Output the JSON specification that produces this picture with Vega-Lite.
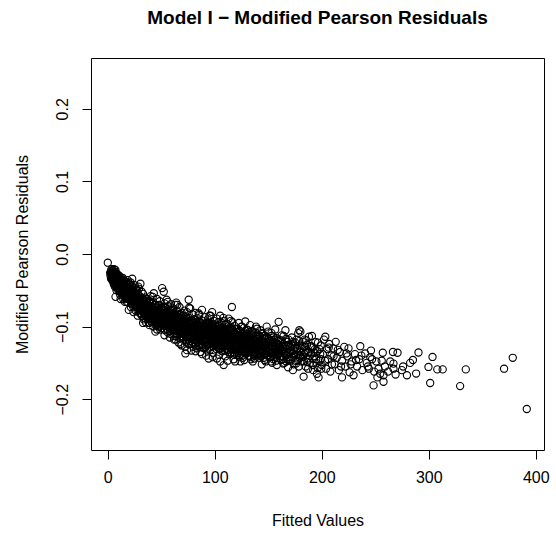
{
  "$schema": "https://vega.github.io/schema/vega-lite/v6.json",
  "autosize": "none",
  "width": 453,
  "height": 392,
  "padding": {"left": 91, "top": 58, "right": 12, "bottom": 86},
  "background": "white",
  "config": {
    "view": {"stroke": "black", "strokeWidth": 1},
    "font": "Liberation Sans"
  },
  "title": {
    "text": "Model I − Modified Pearson Residuals",
    "font": "Liberation Sans",
    "fontSize": 19,
    "fontWeight": "bold",
    "color": "black",
    "anchor": "middle",
    "frame": "group",
    "offset": 30
  },
  "data": {"values": [
    {"x":0,"y":-0.012},{"x":7.2,"y":-0.059},
    {"x":3,"y":-0.024},{"x":3.5,"y":-0.028},{"x":4,"y":-0.026},{"x":4,"y":-0.031},{"x":4.5,"y":-0.022},{"x":5,"y":-0.029},{"x":5,"y":-0.034},{"x":5.5,"y":-0.025},{"x":6,"y":-0.03},{"x":6,"y":-0.036},{"x":6.5,"y":-0.027},{"x":7,"y":-0.033},{"x":7,"y":-0.039},{"x":7.5,"y":-0.029},{"x":8,"y":-0.035},{"x":8,"y":-0.041},{"x":8.5,"y":-0.031},{"x":9,"y":-0.037},{"x":9,"y":-0.044},{"x":9.5,"y":-0.032},{"x":10,"y":-0.039},{"x":10,"y":-0.046},{"x":4,"y":-0.036},{"x":6,"y":-0.042},{"x":8,"y":-0.046},{"x":5,"y":-0.038},{"x":7,"y":-0.025},{"x":9,"y":-0.028},{"x":2.5,"y":-0.03},{"x":3,"y":-0.034},
    {"x":10.5,"y":-0.034},{"x":11,"y":-0.042},{"x":11,"y":-0.05},{"x":11.5,"y":-0.038},{"x":12,"y":-0.045},{"x":12,"y":-0.053},{"x":12.5,"y":-0.036},{"x":13,"y":-0.048},{"x":13,"y":-0.041},{"x":13.5,"y":-0.056},{"x":14,"y":-0.044},{"x":14,"y":-0.05},{"x":14.5,"y":-0.039},{"x":15,"y":-0.047},{"x":15,"y":-0.055},{"x":15.5,"y":-0.042},{"x":16,"y":-0.05},{"x":16,"y":-0.06},{"x":16.5,"y":-0.045},{"x":17,"y":-0.053},{"x":17,"y":-0.038},{"x":17.5,"y":-0.058},{"x":18,"y":-0.048},{"x":18,"y":-0.055},{"x":18.5,"y":-0.043},{"x":19,"y":-0.052},{"x":19,"y":-0.062},{"x":19.5,"y":-0.046},{"x":20,"y":-0.057},{"x":20,"y":-0.05},{"x":12,"y":-0.062},{"x":16,"y":-0.066},{"x":19.6,"y":-0.077},{"x":14,"y":-0.033},
    {"x":20.5,"y":-0.042},{"x":21,"y":-0.054},{"x":21,"y":-0.062},{"x":21.5,"y":-0.048},{"x":22,"y":-0.058},{"x":22,"y":-0.068},{"x":22.8,"y":-0.034},{"x":23,"y":-0.052},{"x":23,"y":-0.061},{"x":23.5,"y":-0.072},{"x":24,"y":-0.056},{"x":24,"y":-0.047},{"x":24.5,"y":-0.065},{"x":25,"y":-0.06},{"x":25,"y":-0.053},{"x":25.5,"y":-0.07},{"x":26,"y":-0.063},{"x":26,"y":-0.078},{"x":26.5,"y":-0.05},{"x":27,"y":-0.066},{"x":27,"y":-0.058},{"x":27.5,"y":-0.074},{"x":28,"y":-0.062},{"x":28,"y":-0.069},{"x":28.5,"y":-0.045},{"x":29,"y":-0.072},{"x":29,"y":-0.058},{"x":29.5,"y":-0.081},{"x":30,"y":-0.066},{"x":30.5,"y":-0.041},{"x":24,"y":-0.08},{"x":28,"y":-0.085},
    {"x":30.5,"y":-0.072},{"x":31,"y":-0.06},{"x":31,"y":-0.078},{"x":31.5,"y":-0.068},{"x":32,"y":-0.064},{"x":32,"y":-0.085},{"x":32.5,"y":-0.074},{"x":33,"y":-0.055},{"x":33,"y":-0.07},{"x":33.5,"y":-0.09},{"x":34,"y":-0.076},{"x":34,"y":-0.066},{"x":34.5,"y":-0.082},{"x":35,"y":-0.071},{"x":35,"y":-0.06},{"x":35.5,"y":-0.094},{"x":36,"y":-0.078},{"x":36,"y":-0.07},{"x":36.5,"y":-0.086},{"x":37,"y":-0.062},{"x":37,"y":-0.075},{"x":37.5,"y":-0.08},{"x":38,"y":-0.072},{"x":38,"y":-0.088},{"x":38.5,"y":-0.066},{"x":39,"y":-0.083},{"x":39,"y":-0.098},{"x":39.5,"y":-0.075},{"x":40,"y":-0.079},{"x":40,"y":-0.058},
    {"x":40.5,"y":-0.087},{"x":41,"y":-0.072},{"x":41,"y":-0.094},{"x":41.5,"y":-0.081},{"x":42,"y":-0.066},{"x":42,"y":-0.078},{"x":42.5,"y":-0.1},{"x":43,"y":-0.054},{"x":43,"y":-0.085},{"x":43.5,"y":-0.074},{"x":44,"y":-0.09},{"x":44,"y":-0.08},{"x":44.5,"y":-0.107},{"x":45,"y":-0.07},{"x":45,"y":-0.086},{"x":45.5,"y":-0.095},{"x":46,"y":-0.077},{"x":46,"y":-0.062},{"x":46.5,"y":-0.089},{"x":47,"y":-0.082},{"x":47,"y":-0.1},{"x":47.5,"y":-0.071},{"x":48,"y":-0.092},{"x":48,"y":-0.084},{"x":48.5,"y":-0.065},{"x":49,"y":-0.079},{"x":49,"y":-0.104},{"x":49.5,"y":-0.088},{"x":50,"y":-0.074},{"x":50,"y":-0.096},
    {"x":50.8,"y":-0.047},{"x":51,"y":-0.083},{"x":51,"y":-0.091},{"x":51.5,"y":-0.076},{"x":52,"y":-0.099},{"x":52.3,"y":-0.052},{"x":52.5,"y":-0.087},{"x":53,"y":-0.068},{"x":53,"y":-0.081},{"x":53.5,"y":-0.105},{"x":54,"y":-0.093},{"x":54,"y":-0.074},{"x":54.5,"y":-0.086},{"x":55,"y":-0.097},{"x":55,"y":-0.063},{"x":55.5,"y":-0.09},{"x":56,"y":-0.08},{"x":56,"y":-0.108},{"x":56.5,"y":-0.072},{"x":57,"y":-0.094},{"x":57,"y":-0.084},{"x":57.5,"y":-0.101},{"x":58,"y":-0.077},{"x":58,"y":-0.09},{"x":58.5,"y":-0.11},{"x":59,"y":-0.086},{"x":59,"y":-0.069},{"x":59.5,"y":-0.098},{"x":60,"y":-0.092},{"x":60,"y":-0.083},
    {"x":60.5,"y":-0.104},{"x":61,"y":-0.075},{"x":61,"y":-0.089},{"x":61.5,"y":-0.113},{"x":62,"y":-0.096},{"x":62,"y":-0.082},{"x":62.5,"y":-0.1},{"x":63,"y":-0.07},{"x":63,"y":-0.092},{"x":63.5,"y":-0.118},{"x":64,"y":-0.067},{"x":64,"y":-0.086},{"x":64.5,"y":-0.106},{"x":65,"y":-0.095},{"x":65,"y":-0.079},{"x":65.5,"y":-0.099},{"x":66,"y":-0.09},{"x":66,"y":-0.122},{"x":66.5,"y":-0.084},{"x":67,"y":-0.103},{"x":67,"y":-0.073},{"x":67.5,"y":-0.094},{"x":68,"y":-0.11},{"x":68,"y":-0.088},{"x":68.5,"y":-0.098},{"x":69,"y":-0.081},{"x":69,"y":-0.126},{"x":69.5,"y":-0.102},{"x":70,"y":-0.092},{"x":70,"y":-0.108},
    {"x":70.5,"y":-0.085},{"x":71,"y":-0.097},{"x":71,"y":-0.115},{"x":71.5,"y":-0.078},{"x":72,"y":-0.104},{"x":72,"y":-0.092},{"x":72.5,"y":-0.137},{"x":73,"y":-0.086},{"x":73,"y":-0.11},{"x":73.5,"y":-0.099},{"x":74,"y":-0.1325},{"x":74,"y":-0.08},{"x":74.5,"y":-0.106},{"x":75,"y":-0.094},{"x":75.6,"y":-0.063},{"x":75.5,"y":-0.118},{"x":76,"y":-0.101},{"x":76,"y":-0.088},{"x":76.5,"y":-0.112},{"x":77,"y":-0.096},{"x":77,"y":-0.075},{"x":77.5,"y":-0.106},{"x":78,"y":-0.124},{"x":78,"y":-0.091},{"x":78.5,"y":-0.1},{"x":79,"y":-0.083},{"x":79,"y":-0.114},{"x":79.5,"y":-0.104},{"x":80,"y":-0.095},{"x":80,"y":-0.128},
    {"x":80.5,"y":-0.108},{"x":81,"y":-0.09},{"x":81,"y":-0.118},{"x":81.5,"y":-0.1},{"x":82,"y":-0.081},{"x":82,"y":-0.112},{"x":82.5,"y":-0.097},{"x":83,"y":-0.13},{"x":83,"y":-0.104},{"x":83.5,"y":-0.088},{"x":84,"y":-0.115},{"x":84,"y":-0.099},{"x":84.5,"y":-0.121},{"x":85,"y":-0.093},{"x":85,"y":-0.109},{"x":85.5,"y":-0.084},{"x":86,"y":-0.103},{"x":86.6,"y":-0.135},{"x":86.5,"y":-0.117},{"x":87,"y":-0.096},{"x":87,"y":-0.111},{"x":87.5,"y":-0.125},{"x":88,"y":-0.077},{"x":88,"y":-0.102},{"x":88.5,"y":-0.114},{"x":89,"y":-0.092},{"x":89,"y":-0.12},{"x":89.5,"y":-0.106},{"x":90,"y":-0.098},{"x":90,"y":-0.13},
    {"x":90.5,"y":-0.112},{"x":91,"y":-0.087},{"x":91,"y":-0.104},{"x":91.5,"y":-0.122},{"x":92,"y":-0.095},{"x":92,"y":-0.116},{"x":92.5,"y":-0.108},{"x":93,"y":-0.133},{"x":93,"y":-0.1},{"x":93.5,"y":-0.09},{"x":94,"y":-0.118},{"x":94.3,"y":-0.144},{"x":94.5,"y":-0.106},{"x":95,"y":-0.095},{"x":95,"y":-0.124},{"x":95.5,"y":-0.112},{"x":96,"y":-0.085},{"x":96,"y":-0.103},{"x":96.5,"y":-0.128},{"x":97,"y":-0.114},{"x":97.5,"y":-0.08},{"x":97.5,"y":-0.098},{"x":98,"y":-0.12},{"x":98,"y":-0.109},{"x":98.5,"y":-0.136},{"x":99,"y":-0.101},{"x":99,"y":-0.092},{"x":99.5,"y":-0.117},{"x":100,"y":-0.11},{"x":100,"y":-0.125},
    {"x":100.5,"y":-0.097},{"x":101,"y":-0.118},{"x":101,"y":-0.106},{"x":101.5,"y":-0.131},{"x":102,"y":-0.089},{"x":102,"y":-0.114},{"x":102.5,"y":-0.101},{"x":103,"y":-0.125},{"x":103,"y":-0.11},{"x":103.5,"y":-0.094},{"x":104,"y":-0.12},{"x":104,"y":-0.139},{"x":104.5,"y":-0.106},{"x":105,"y":-0.116},{"x":105,"y":-0.085},{"x":105.5,"y":-0.127},{"x":106,"y":-0.103},{"x":106,"y":-0.112},{"x":106.5,"y":-0.122},{"x":107,"y":-0.098},{"x":107,"y":-0.134},{"x":107.5,"y":-0.109},{"x":108,"y":-0.118},{"x":108.3,"y":-0.153},{"x":108.5,"y":-0.092},{"x":109,"y":-0.113},{"x":109,"y":-0.127},{"x":109.5,"y":-0.104},{"x":110,"y":-0.119},{"x":110,"y":-0.141},
    {"x":110.5,"y":-0.108},{"x":111,"y":-0.124},{"x":111,"y":-0.096},{"x":111.5,"y":-0.115},{"x":112,"y":-0.132},{"x":112,"y":-0.104},{"x":112.5,"y":-0.12},{"x":113,"y":-0.112},{"x":113,"y":-0.089},{"x":113.5,"y":-0.128},{"x":114,"y":-0.117},{"x":114,"y":-0.138},{"x":114.5,"y":-0.1},{"x":115,"y":-0.122},{"x":116,"y":-0.073},{"x":115.5,"y":-0.111},{"x":116,"y":-0.131},{"x":116.5,"y":-0.094},{"x":117,"y":-0.119},{"x":117,"y":-0.107},{"x":117.5,"y":-0.145},{"x":118,"y":-0.125},{"x":118,"y":-0.114},{"x":118.5,"y":-0.099},{"x":119,"y":-0.129},{"x":119.5,"y":-0.118},{"x":120,"y":-0.108},{"x":120.8,"y":-0.139},
    {"x":121,"y":-0.123},{"x":121.5,"y":-0.112},{"x":122,"y":-0.131},{"x":122.5,"y":-0.095},{"x":123,"y":-0.118},{"x":123,"y":-0.142},{"x":123.5,"y":-0.106},{"x":124,"y":-0.126},{"x":124.5,"y":-0.115},{"x":125,"y":-0.134},{"x":125.5,"y":-0.1},{"x":126,"y":-0.121},{"x":126.5,"y":-0.11},{"x":127,"y":-0.129},{"x":127.5,"y":-0.146},{"x":128,"y":-0.116},{"x":128.5,"y":-0.093},{"x":129,"y":-0.125},{"x":129.5,"y":-0.137},{"x":130,"y":-0.112},{"x":130,"y":-0.12},
    {"x":130.5,"y":-0.128},{"x":131,"y":-0.105},{"x":131.5,"y":-0.133},{"x":132,"y":-0.118},{"x":132.5,"y":-0.141},{"x":133,"y":-0.098},{"x":133.5,"y":-0.124},{"x":134,"y":-0.112},{"x":134.5,"y":-0.13},{"x":135,"y":-0.12},{"x":135.5,"y":-0.148},{"x":136,"y":-0.108},{"x":136.5,"y":-0.126},{"x":137,"y":-0.135},{"x":137.5,"y":-0.116},{"x":138,"y":-0.129},{"x":138.5,"y":-0.1},{"x":139,"y":-0.138},{"x":139.5,"y":-0.103},{"x":140,"y":-0.122},
    {"x":140.5,"y":-0.131},{"x":141,"y":-0.113},{"x":141.5,"y":-0.143},{"x":142,"y":-0.125},{"x":142.5,"y":-0.105},{"x":143,"y":-0.134},{"x":143.5,"y":-0.119},{"x":144,"y":-0.152},{"x":144.5,"y":-0.128},{"x":145,"y":-0.11},{"x":145.5,"y":-0.137},{"x":146,"y":-0.123},{"x":146.5,"y":-0.146},{"x":147,"y":-0.116},{"x":148,"y":-0.131},{"x":148.5,"y":-0.1},{"x":149,"y":-0.14},{"x":150,"y":-0.126},
    {"x":150.5,"y":-0.117},{"x":151,"y":-0.135},{"x":152,"y":-0.128},{"x":152.5,"y":-0.148},{"x":153,"y":-0.109},{"x":154,"y":-0.132},{"x":154.5,"y":-0.121},{"x":155,"y":-0.142},{"x":156,"y":-0.127},{"x":156.5,"y":-0.104},{"x":157,"y":-0.138},{"x":158,"y":-0.153},{"x":158.5,"y":-0.124},{"x":159,"y":-0.133},{"x":159.7,"y":-0.0935},{"x":160,"y":-0.118},
    {"x":160.5,"y":-0.137},{"x":161,"y":-0.129},{"x":162,"y":-0.146},{"x":162.5,"y":-0.112},{"x":163,"y":-0.134},{"x":164,"y":-0.124},{"x":165,"y":-0.15},{"x":165.5,"y":-0.131},{"x":166,"y":-0.105},{"x":167,"y":-0.139},{"x":168,"y":-0.127},{"x":168.5,"y":-0.156},{"x":169,"y":-0.118},{"x":170,"y":-0.136},
    {"x":170.5,"y":-0.128},{"x":171,"y":-0.145},{"x":172,"y":-0.115},{"x":173,"y":-0.16},{"x":173.5,"y":-0.133},{"x":174,"y":-0.14},{"x":175,"y":-0.122},{"x":176,"y":-0.151},{"x":177,"y":-0.13},{"x":178,"y":-0.109},{"x":179,"y":-0.105},{"x":179.5,"y":-0.143},{"x":180,"y":-0.135},
    {"x":180,"y":-0.107},{"x":181,"y":-0.148},{"x":182,"y":-0.127},{"x":183,"y":-0.169},{"x":183.5,"y":-0.138},{"x":184,"y":-0.118},{"x":185,"y":-0.155},{"x":186,"y":-0.132},{"x":187,"y":-0.144},{"x":188,"y":-0.114},{"x":189,"y":-0.15},{"x":190,"y":-0.137},
    {"x":190.8,"y":-0.113},{"x":191,"y":-0.129},{"x":192,"y":-0.16},{"x":193,"y":-0.141},{"x":194,"y":-0.121},{"x":195.5,"y":-0.165},{"x":196,"y":-0.134},{"x":197,"y":-0.17},{"x":198,"y":-0.147},{"x":199,"y":-0.126},{"x":200,"y":-0.153},
    {"x":201,"y":-0.138},{"x":202,"y":-0.118},{"x":203.3,"y":-0.114},{"x":204,"y":-0.158},{"x":205,"y":-0.131},{"x":206,"y":-0.145},{"x":207,"y":-0.124},{"x":208,"y":-0.162},{"x":209,"y":-0.14},
    {"x":210.5,"y":-0.13},{"x":212,"y":-0.152},{"x":213,"y":-0.121},{"x":214,"y":-0.143},{"x":216,"y":-0.16},{"x":217,"y":-0.135},{"x":218.9,"y":-0.17},{"x":219,"y":-0.147},
    {"x":221,"y":-0.128},{"x":222,"y":-0.155},{"x":224,"y":-0.141},{"x":225,"y":-0.13},{"x":226,"y":-0.163},{"x":228,"y":-0.148},{"x":229.7,"y":-0.167},
    {"x":231,"y":-0.138},{"x":233,"y":-0.155},{"x":235,"y":-0.145},{"x":236,"y":-0.127},{"x":238,"y":-0.16},{"x":240.6,"y":-0.137},
    {"x":242,"y":-0.15},{"x":244,"y":-0.158},{"x":245.3,"y":-0.142},{"x":246,"y":-0.133},{"x":248.4,"y":-0.181},{"x":249,"y":-0.162},
    {"x":251,"y":-0.148},{"x":252,"y":-0.17},{"x":254.6,"y":-0.165},{"x":257,"y":-0.136},{"x":257.7,"y":-0.176},{"x":257.7,"y":-0.167},{"x":259,"y":-0.155},
    {"x":262,"y":-0.162},{"x":264,"y":-0.148},{"x":266.5,"y":-0.135},{"x":267,"y":-0.151},{"x":267,"y":-0.158},{"x":269,"y":-0.166},{"x":270.8,"y":-0.136},
    {"x":274.9,"y":-0.16},{"x":276,"y":-0.155},{"x":279.6,"y":-0.167},{"x":282.6,"y":-0.15},{"x":285.2,"y":-0.146},{"x":288.2,"y":-0.1647},{"x":290.4,"y":-0.1357},{"x":299.7,"y":-0.1556},{"x":301.3,"y":-0.1777},{"x":303.5,"y":-0.1418},{"x":308,"y":-0.159},{"x":313,"y":-0.159},{"x":329.3,"y":-0.182},{"x":334.6,"y":-0.159},{"x":370.4,"y":-0.158},{"x":378.5,"y":-0.143},{"x":391.6,"y":-0.2135},
    {"x":3.2,"y":-0.027},{"x":3.8,"y":-0.033},{"x":4.3,"y":-0.029},{"x":4.8,"y":-0.024},{"x":5.2,"y":-0.032},{"x":5.8,"y":-0.037},{"x":6.3,"y":-0.033},{"x":6.8,"y":-0.03},{"x":7.3,"y":-0.036},{"x":7.8,"y":-0.043},{"x":8.3,"y":-0.038},{"x":8.8,"y":-0.034},{"x":9.3,"y":-0.041},{"x":9.8,"y":-0.036},{"x":5.5,"y":-0.041},{"x":6.6,"y":-0.045},{"x":8.1,"y":-0.05},{"x":9.6,"y":-0.049},{"x":4.6,"y":-0.027},{"x":7.1,"y":-0.022},
    {"x":10.3,"y":-0.043},{"x":10.8,"y":-0.038},{"x":11.3,"y":-0.047},{"x":11.8,"y":-0.044},{"x":12.3,"y":-0.04},{"x":12.8,"y":-0.051},{"x":13.3,"y":-0.045},{"x":13.8,"y":-0.052},{"x":14.3,"y":-0.048},{"x":14.8,"y":-0.043},{"x":15.3,"y":-0.051},{"x":15.8,"y":-0.058},{"x":16.3,"y":-0.047},{"x":16.8,"y":-0.056},{"x":17.3,"y":-0.05},{"x":17.8,"y":-0.045},{"x":18.3,"y":-0.059},{"x":18.8,"y":-0.053},{"x":19.3,"y":-0.056},{"x":19.8,"y":-0.049},{"x":11.5,"y":-0.056},{"x":14.5,"y":-0.062},{"x":17.5,"y":-0.066},{"x":13,"y":-0.036},
    {"x":20.3,"y":-0.053},{"x":20.8,"y":-0.06},{"x":21.3,"y":-0.057},{"x":21.8,"y":-0.051},{"x":22.3,"y":-0.063},{"x":22.8,"y":-0.057},{"x":23.3,"y":-0.066},{"x":23.8,"y":-0.06},{"x":24.3,"y":-0.052},{"x":24.8,"y":-0.068},{"x":25.3,"y":-0.064},{"x":25.8,"y":-0.057},{"x":26.3,"y":-0.067},{"x":26.8,"y":-0.072},{"x":27.3,"y":-0.062},{"x":27.8,"y":-0.068},{"x":28.3,"y":-0.074},{"x":28.8,"y":-0.065},{"x":29.3,"y":-0.062},{"x":29.8,"y":-0.07},{"x":21.5,"y":-0.073},{"x":26,"y":-0.047},{"x":30,"y":-0.077},
    {"x":30.3,"y":-0.064},{"x":30.8,"y":-0.075},{"x":31.3,"y":-0.071},{"x":31.8,"y":-0.065},{"x":32.3,"y":-0.079},{"x":32.8,"y":-0.07},{"x":33.3,"y":-0.076},{"x":33.8,"y":-0.082},{"x":34.3,"y":-0.072},{"x":34.8,"y":-0.078},{"x":35.3,"y":-0.085},{"x":35.8,"y":-0.074},{"x":36.3,"y":-0.081},{"x":36.8,"y":-0.077},{"x":37.3,"y":-0.089},{"x":37.8,"y":-0.07},{"x":38.3,"y":-0.084},{"x":38.8,"y":-0.079},{"x":39.3,"y":-0.09},{"x":39.8,"y":-0.072},{"x":33,"y":-0.095},{"x":36,"y":-0.062},{"x":38.5,"y":-0.095},
    {"x":40.3,"y":-0.083},{"x":40.8,"y":-0.077},{"x":41.3,"y":-0.088},{"x":41.8,"y":-0.074},{"x":42.3,"y":-0.091},{"x":42.8,"y":-0.083},{"x":43.3,"y":-0.079},{"x":43.8,"y":-0.094},{"x":44.3,"y":-0.086},{"x":44.8,"y":-0.077},{"x":45.3,"y":-0.09},{"x":45.8,"y":-0.082},{"x":46.3,"y":-0.097},{"x":46.8,"y":-0.085},{"x":47.3,"y":-0.079},{"x":47.8,"y":-0.088},{"x":48.3,"y":-0.096},{"x":48.8,"y":-0.082},{"x":49.3,"y":-0.09},{"x":49.8,"y":-0.081},{"x":42,"y":-0.059},{"x":46,"y":-0.104},{"x":48,"y":-0.07},
    {"x":50.3,"y":-0.088},{"x":50.8,"y":-0.095},{"x":51.3,"y":-0.079},{"x":51.8,"y":-0.09},{"x":52.3,"y":-0.084},{"x":52.8,"y":-0.096},{"x":53.3,"y":-0.089},{"x":53.8,"y":-0.078},{"x":54.3,"y":-0.099},{"x":54.8,"y":-0.091},{"x":55.3,"y":-0.083},{"x":55.8,"y":-0.095},{"x":56.3,"y":-0.088},{"x":56.8,"y":-0.1},{"x":57.3,"y":-0.079},{"x":57.8,"y":-0.092},{"x":58.3,"y":-0.085},{"x":58.8,"y":-0.103},{"x":59.3,"y":-0.093},{"x":59.8,"y":-0.077},{"x":53,"y":-0.112},{"x":56,"y":-0.066},{"x":58,"y":-0.115},
    {"x":60.3,"y":-0.087},{"x":60.8,"y":-0.097},{"x":61.3,"y":-0.093},{"x":61.8,"y":-0.085},{"x":62.3,"y":-0.105},{"x":62.8,"y":-0.09},{"x":63.3,"y":-0.099},{"x":63.8,"y":-0.084},{"x":64.3,"y":-0.095},{"x":64.8,"y":-0.11},{"x":65.3,"y":-0.088},{"x":65.8,"y":-0.104},{"x":66.3,"y":-0.097},{"x":66.8,"y":-0.091},{"x":67.3,"y":-0.107},{"x":67.8,"y":-0.083},{"x":68.3,"y":-0.102},{"x":68.8,"y":-0.094},{"x":69.3,"y":-0.113},{"x":69.8,"y":-0.097},{"x":62,"y":-0.118},{"x":65,"y":-0.07},{"x":68,"y":-0.124},
    {"x":70.3,"y":-0.1},{"x":70.8,"y":-0.106},{"x":71.3,"y":-0.09},{"x":71.8,"y":-0.111},{"x":72.3,"y":-0.098},{"x":72.8,"y":-0.119},{"x":73.3,"y":-0.093},{"x":73.8,"y":-0.105},{"x":74.3,"y":-0.115},{"x":74.8,"y":-0.099},{"x":75.3,"y":-0.088},{"x":75.8,"y":-0.108},{"x":76.3,"y":-0.095},{"x":76.8,"y":-0.12},{"x":77.3,"y":-0.101},{"x":77.8,"y":-0.113},{"x":78.3,"y":-0.097},{"x":78.8,"y":-0.107},{"x":79.3,"y":-0.092},{"x":79.8,"y":-0.118},{"x":72,"y":-0.128},{"x":76,"y":-0.074},{"x":78,"y":-0.133},
    {"x":80.3,"y":-0.101},{"x":80.8,"y":-0.113},{"x":81.3,"y":-0.095},{"x":81.8,"y":-0.107},{"x":82.3,"y":-0.123},{"x":82.8,"y":-0.103},{"x":83.3,"y":-0.112},{"x":83.8,"y":-0.097},{"x":84.3,"y":-0.108},{"x":84.8,"y":-0.126},{"x":85.3,"y":-0.1},{"x":85.8,"y":-0.113},{"x":86.3,"y":-0.094},{"x":86.8,"y":-0.107},{"x":87.3,"y":-0.119},{"x":87.8,"y":-0.104},{"x":88.3,"y":-0.124},{"x":88.8,"y":-0.099},{"x":89.3,"y":-0.111},{"x":89.8,"y":-0.116},{"x":82,"y":-0.134},{"x":85,"y":-0.082},{"x":88,"y":-0.138},
    {"x":90.3,"y":-0.105},{"x":90.8,"y":-0.119},{"x":91.3,"y":-0.097},{"x":91.8,"y":-0.111},{"x":92.3,"y":-0.126},{"x":92.8,"y":-0.102},{"x":93.3,"y":-0.114},{"x":93.8,"y":-0.108},{"x":94.3,"y":-0.097},{"x":94.8,"y":-0.129},{"x":95.3,"y":-0.104},{"x":95.8,"y":-0.118},{"x":96.3,"y":-0.11},{"x":96.8,"y":-0.096},{"x":97.3,"y":-0.123},{"x":97.8,"y":-0.105},{"x":98.3,"y":-0.115},{"x":98.8,"y":-0.127},{"x":99.3,"y":-0.108},{"x":99.8,"y":-0.121},{"x":92,"y":-0.14},{"x":95,"y":-0.085},{"x":98,"y":-0.142},
    {"x":100.3,"y":-0.113},{"x":100.8,"y":-0.123},{"x":101.3,"y":-0.101},{"x":101.8,"y":-0.117},{"x":102.3,"y":-0.128},{"x":102.8,"y":-0.107},{"x":103.3,"y":-0.118},{"x":103.8,"y":-0.099},{"x":104.3,"y":-0.113},{"x":104.8,"y":-0.131},{"x":105.3,"y":-0.109},{"x":105.8,"y":-0.121},{"x":106.3,"y":-0.095},{"x":106.8,"y":-0.116},{"x":107.3,"y":-0.126},{"x":107.8,"y":-0.104},{"x":108.3,"y":-0.122},{"x":108.8,"y":-0.11},{"x":109.3,"y":-0.133},{"x":109.8,"y":-0.098},{"x":102,"y":-0.144},{"x":105,"y":-0.148},{"x":108,"y":-0.088},
    {"x":110.3,"y":-0.117},{"x":110.8,"y":-0.131},{"x":111.3,"y":-0.11},{"x":111.8,"y":-0.122},{"x":112.3,"y":-0.113},{"x":112.8,"y":-0.135},{"x":113.3,"y":-0.121},{"x":113.8,"y":-0.105},{"x":114.3,"y":-0.126},{"x":114.8,"y":-0.113},{"x":115.3,"y":-0.13},{"x":115.8,"y":-0.119},{"x":116.3,"y":-0.103},{"x":116.8,"y":-0.125},{"x":117.3,"y":-0.132},{"x":117.8,"y":-0.108},{"x":118.3,"y":-0.12},{"x":118.8,"y":-0.137},{"x":119.3,"y":-0.111},{"x":119.8,"y":-0.124},{"x":112,"y":-0.147},{"x":115,"y":-0.092},{"x":119,"y":-0.148},
    {"x":120.3,"y":-0.116},{"x":120.8,"y":-0.128},{"x":121.3,"y":-0.103},{"x":121.8,"y":-0.12},{"x":122.3,"y":-0.136},{"x":122.8,"y":-0.111},{"x":123.3,"y":-0.128},{"x":123.8,"y":-0.117},{"x":124.3,"y":-0.133},{"x":124.8,"y":-0.1},{"x":125.3,"y":-0.124},{"x":125.8,"y":-0.14},{"x":126.3,"y":-0.115},{"x":126.8,"y":-0.127},{"x":127.3,"y":-0.108},{"x":127.8,"y":-0.121},{"x":128.3,"y":-0.135},{"x":128.8,"y":-0.113},{"x":129.3,"y":-0.129},{"x":129.8,"y":-0.104},{"x":124,"y":-0.148},
    {"x":130.3,"y":-0.119},{"x":130.8,"y":-0.135},{"x":131.3,"y":-0.113},{"x":131.8,"y":-0.126},{"x":132.3,"y":-0.108},{"x":132.8,"y":-0.131},{"x":133.3,"y":-0.117},{"x":133.8,"y":-0.142},{"x":134.3,"y":-0.121},{"x":134.8,"y":-0.106},{"x":135.3,"y":-0.133},{"x":135.8,"y":-0.125},{"x":136.3,"y":-0.116},{"x":136.8,"y":-0.14},{"x":137.3,"y":-0.123},{"x":137.8,"y":-0.108},{"x":138.3,"y":-0.136},{"x":138.8,"y":-0.12},{"x":139.3,"y":-0.13},{"x":139.8,"y":-0.114},
    {"x":140.3,"y":-0.124},{"x":141.3,"y":-0.136},{"x":141.8,"y":-0.119},{"x":142.3,"y":-0.14},{"x":143.3,"y":-0.127},{"x":143.8,"y":-0.109},{"x":144.3,"y":-0.135},{"x":145.3,"y":-0.122},{"x":145.8,"y":-0.143},{"x":146.3,"y":-0.113},{"x":147.3,"y":-0.13},{"x":147.8,"y":-0.138},{"x":148.3,"y":-0.121},{"x":149.3,"y":-0.133},{"x":149.8,"y":-0.107},
    {"x":150.3,"y":-0.129},{"x":151.3,"y":-0.12},{"x":151.8,"y":-0.142},{"x":152.8,"y":-0.113},{"x":153.3,"y":-0.136},{"x":153.8,"y":-0.126},{"x":154.8,"y":-0.145},{"x":155.3,"y":-0.118},{"x":155.8,"y":-0.133},{"x":156.8,"y":-0.128},{"x":157.3,"y":-0.147},{"x":157.8,"y":-0.116},{"x":158.8,"y":-0.139},{"x":159.3,"y":-0.125},
    {"x":160.3,"y":-0.128},{"x":161.3,"y":-0.141},{"x":161.8,"y":-0.119},{"x":162.8,"y":-0.133},{"x":163.5,"y":-0.145},{"x":164.3,"y":-0.113},{"x":164.8,"y":-0.137},{"x":166.3,"y":-0.126},{"x":166.8,"y":-0.148},{"x":167.5,"y":-0.121},{"x":168.8,"y":-0.135},{"x":169.5,"y":-0.142},
    {"x":171.5,"y":-0.133},{"x":172.3,"y":-0.142},{"x":173,"y":-0.121},{"x":174.5,"y":-0.129},{"x":175.5,"y":-0.147},{"x":176.5,"y":-0.118},{"x":177.5,"y":-0.139},{"x":178.5,"y":-0.155},{"x":179.3,"y":-0.126},
    {"x":181.5,"y":-0.13},{"x":182.5,"y":-0.142},{"x":184.5,"y":-0.128},{"x":185.5,"y":-0.119},{"x":186.5,"y":-0.149},{"x":187.5,"y":-0.135},{"x":189.5,"y":-0.127},
    {"x":191.5,"y":-0.144},{"x":193.5,"y":-0.131},{"x":195,"y":-0.15},{"x":196.5,"y":-0.122},{"x":198.5,"y":-0.138},{"x":199.5,"y":-0.158},
    {"x":203,"y":-0.147},{"x":206.5,"y":-0.129},{"x":209.5,"y":-0.152},{"x":211,"y":-0.141},{"x":215,"y":-0.132},{"x":218,"y":-0.155},{"x":223,"y":-0.137},{"x":227,"y":-0.152},{"x":232,"y":-0.146},{"x":237,"y":-0.14},{"x":243,"y":-0.155},{"x":247,"y":-0.145},{"x":253,"y":-0.158},{"x":256,"y":-0.147},
    {"x":2.2,"y":-0.026},{"x":3.4,"y":-0.021},{"x":4.1,"y":-0.033},{"x":5.3,"y":-0.027},{"x":5.9,"y":-0.021},{"x":6.7,"y":-0.038},{"x":7.6,"y":-0.026},{"x":8.6,"y":-0.028},{"x":9.2,"y":-0.047},{"x":9.9,"y":-0.03},
    {"x":10.6,"y":-0.03},{"x":11.2,"y":-0.035},{"x":11.7,"y":-0.052},{"x":12.6,"y":-0.033},{"x":13.6,"y":-0.044},{"x":14.1,"y":-0.055},{"x":15.1,"y":-0.036},{"x":15.6,"y":-0.049},{"x":16.6,"y":-0.039},{"x":17.1,"y":-0.061},{"x":17.9,"y":-0.041},{"x":18.6,"y":-0.036},{"x":19.1,"y":-0.067},{"x":19.9,"y":-0.04},
    {"x":20.6,"y":-0.047},{"x":21.2,"y":-0.039},{"x":22.1,"y":-0.055},{"x":22.6,"y":-0.044},{"x":23.1,"y":-0.069},{"x":23.6,"y":-0.049},{"x":24.2,"y":-0.061},{"x":25.1,"y":-0.043},{"x":25.6,"y":-0.066},{"x":26.2,"y":-0.055},{"x":27.1,"y":-0.05},{"x":27.6,"y":-0.077},{"x":28.1,"y":-0.056},{"x":28.6,"y":-0.063},{"x":29.1,"y":-0.048},{"x":29.6,"y":-0.075},
    {"x":30.1,"y":-0.058},{"x":31.1,"y":-0.083},{"x":31.6,"y":-0.052},{"x":32.1,"y":-0.071},{"x":33.1,"y":-0.063},{"x":33.6,"y":-0.077},{"x":34.1,"y":-0.088},{"x":34.6,"y":-0.069},{"x":35.1,"y":-0.078},{"x":35.6,"y":-0.065},{"x":36.1,"y":-0.084},{"x":36.6,"y":-0.073},{"x":37.1,"y":-0.068},{"x":37.6,"y":-0.087},{"x":38.1,"y":-0.079},{"x":38.6,"y":-0.072},{"x":39.1,"y":-0.065},{"x":39.6,"y":-0.086},
    {"x":40.1,"y":-0.072},{"x":40.6,"y":-0.093},{"x":41.1,"y":-0.079},{"x":41.6,"y":-0.068},{"x":42.1,"y":-0.085},{"x":42.6,"y":-0.075},{"x":43.1,"y":-0.092},{"x":43.6,"y":-0.081},{"x":44.1,"y":-0.07},{"x":44.6,"y":-0.088},{"x":45.1,"y":-0.079},{"x":45.6,"y":-0.099},{"x":46.1,"y":-0.084},{"x":46.6,"y":-0.074},{"x":47.1,"y":-0.09},{"x":47.6,"y":-0.095},{"x":48.1,"y":-0.077},{"x":48.6,"y":-0.089},{"x":49.1,"y":-0.085},{"x":49.6,"y":-0.097},
    {"x":50.1,"y":-0.081},{"x":50.6,"y":-0.102},{"x":51.1,"y":-0.087},{"x":51.6,"y":-0.095},{"x":52.1,"y":-0.073},{"x":52.6,"y":-0.092},{"x":53.1,"y":-0.085},{"x":53.6,"y":-0.099},{"x":54.1,"y":-0.08},{"x":54.6,"y":-0.094},{"x":55.1,"y":-0.088},{"x":55.6,"y":-0.104},{"x":56.1,"y":-0.092},{"x":56.6,"y":-0.083},{"x":57.1,"y":-0.098},{"x":57.6,"y":-0.087},{"x":58.1,"y":-0.106},{"x":58.6,"y":-0.094},{"x":59.1,"y":-0.081},{"x":59.6,"y":-0.101},
    {"x":60.1,"y":-0.096},{"x":60.6,"y":-0.083},{"x":61.1,"y":-0.101},{"x":61.6,"y":-0.09},{"x":62.1,"y":-0.11},{"x":62.6,"y":-0.087},{"x":63.1,"y":-0.104},{"x":63.6,"y":-0.095},{"x":64.1,"y":-0.113},{"x":64.6,"y":-0.091},{"x":65.1,"y":-0.101},{"x":65.6,"y":-0.086},{"x":66.1,"y":-0.107},{"x":66.6,"y":-0.098},{"x":67.1,"y":-0.116},{"x":67.6,"y":-0.089},{"x":68.1,"y":-0.1},{"x":68.6,"y":-0.108},{"x":69.1,"y":-0.094},{"x":69.6,"y":-0.109},
    {"x":70.1,"y":-0.097},{"x":70.6,"y":-0.114},{"x":71.1,"y":-0.103},{"x":71.6,"y":-0.092},{"x":72.1,"y":-0.11},{"x":72.6,"y":-0.1},{"x":73.1,"y":-0.121},{"x":73.6,"y":-0.091},{"x":74.1,"y":-0.103},{"x":74.6,"y":-0.112},{"x":75.1,"y":-0.099},{"x":75.6,"y":-0.124},{"x":76.1,"y":-0.106},{"x":76.6,"y":-0.094},{"x":77.1,"y":-0.115},{"x":77.6,"y":-0.102},{"x":78.1,"y":-0.111},{"x":78.6,"y":-0.093},{"x":79.1,"y":-0.105},{"x":79.6,"y":-0.122},
    {"x":80.1,"y":-0.104},{"x":80.6,"y":-0.118},{"x":81.1,"y":-0.098},{"x":81.6,"y":-0.112},{"x":82.1,"y":-0.105},{"x":82.6,"y":-0.126},{"x":83.1,"y":-0.095},{"x":83.6,"y":-0.109},{"x":84.1,"y":-0.118},{"x":84.6,"y":-0.101},{"x":85.1,"y":-0.112},{"x":85.6,"y":-0.128},{"x":86.1,"y":-0.098},{"x":86.6,"y":-0.11},{"x":87.1,"y":-0.103},{"x":87.6,"y":-0.116},{"x":88.1,"y":-0.108},{"x":88.6,"y":-0.129},{"x":89.1,"y":-0.1},{"x":89.6,"y":-0.113},
    {"x":90.1,"y":-0.117},{"x":90.6,"y":-0.1},{"x":91.1,"y":-0.113},{"x":91.6,"y":-0.128},{"x":92.1,"y":-0.105},{"x":92.6,"y":-0.119},{"x":93.1,"y":-0.096},{"x":93.6,"y":-0.111},{"x":94.1,"y":-0.124},{"x":94.6,"y":-0.102},{"x":95.1,"y":-0.116},{"x":95.6,"y":-0.132},{"x":96.1,"y":-0.107},{"x":96.6,"y":-0.099},{"x":97.1,"y":-0.12},{"x":97.6,"y":-0.11},{"x":98.1,"y":-0.1},{"x":98.6,"y":-0.122},{"x":99.1,"y":-0.114},{"x":99.6,"y":-0.104},
    {"x":100.1,"y":-0.118},{"x":100.6,"y":-0.105},{"x":101.1,"y":-0.126},{"x":101.6,"y":-0.111},{"x":102.1,"y":-0.121},{"x":102.6,"y":-0.099},{"x":103.1,"y":-0.116},{"x":103.6,"y":-0.13},{"x":104.1,"y":-0.107},{"x":104.6,"y":-0.122},{"x":105.1,"y":-0.103},{"x":105.6,"y":-0.115},{"x":106.1,"y":-0.133},{"x":106.6,"y":-0.109},{"x":107.1,"y":-0.119},{"x":107.6,"y":-0.101},{"x":108.1,"y":-0.128},{"x":108.6,"y":-0.114},{"x":109.1,"y":-0.106},{"x":109.6,"y":-0.124},
    {"x":110.1,"y":-0.112},{"x":110.6,"y":-0.127},{"x":111.1,"y":-0.104},{"x":111.6,"y":-0.119},{"x":112.1,"y":-0.126},{"x":112.6,"y":-0.109},{"x":113.1,"y":-0.132},{"x":113.6,"y":-0.116},{"x":114.1,"y":-0.103},{"x":114.6,"y":-0.121},{"x":115.1,"y":-0.136},{"x":115.6,"y":-0.114},{"x":116.1,"y":-0.12},{"x":116.6,"y":-0.105},{"x":117.1,"y":-0.128},{"x":117.6,"y":-0.116},{"x":118.1,"y":-0.139},{"x":118.6,"y":-0.11},{"x":119.1,"y":-0.122},{"x":119.6,"y":-0.132},
    {"x":120.1,"y":-0.113},{"x":120.6,"y":-0.133},{"x":121.1,"y":-0.118},{"x":121.6,"y":-0.107},{"x":122.1,"y":-0.125},{"x":122.6,"y":-0.139},{"x":123.1,"y":-0.112},{"x":123.6,"y":-0.122},{"x":124.1,"y":-0.108},{"x":124.6,"y":-0.13},{"x":125.1,"y":-0.117},{"x":125.6,"y":-0.127},{"x":126.1,"y":-0.143},{"x":126.6,"y":-0.119},{"x":127.1,"y":-0.112},{"x":127.6,"y":-0.134},{"x":128.1,"y":-0.124},{"x":128.6,"y":-0.106},{"x":129.1,"y":-0.119},{"x":129.6,"y":-0.131},
    {"x":130.1,"y":-0.126},{"x":130.6,"y":-0.11},{"x":131.1,"y":-0.14},{"x":131.6,"y":-0.121},{"x":132.1,"y":-0.131},{"x":132.6,"y":-0.115},{"x":133.1,"y":-0.128},{"x":133.6,"y":-0.145},{"x":134.1,"y":-0.118},{"x":134.6,"y":-0.125},{"x":135.1,"y":-0.111},{"x":135.6,"y":-0.137},{"x":136.1,"y":-0.13},{"x":136.6,"y":-0.12},{"x":137.1,"y":-0.144},{"x":137.6,"y":-0.127},{"x":138.1,"y":-0.113},{"x":138.6,"y":-0.132},{"x":139.1,"y":-0.124},{"x":139.6,"y":-0.14},
    {"x":140.1,"y":-0.117},{"x":140.8,"y":-0.138},{"x":141.6,"y":-0.126},{"x":142.1,"y":-0.113},{"x":142.8,"y":-0.132},{"x":143.6,"y":-0.141},{"x":144.1,"y":-0.12},{"x":144.8,"y":-0.131},{"x":145.6,"y":-0.116},{"x":146.1,"y":-0.139},{"x":146.8,"y":-0.126},{"x":147.6,"y":-0.148},{"x":148.1,"y":-0.124},{"x":148.8,"y":-0.114},{"x":149.6,"y":-0.135},
    {"x":150.1,"y":-0.14},{"x":150.8,"y":-0.123},{"x":151.6,"y":-0.131},{"x":152.1,"y":-0.119},{"x":152.9,"y":-0.137},{"x":153.6,"y":-0.15},{"x":154.1,"y":-0.127},{"x":154.9,"y":-0.115},{"x":155.6,"y":-0.139},{"x":156.1,"y":-0.131},{"x":156.9,"y":-0.122},{"x":157.6,"y":-0.135},{"x":158.1,"y":-0.143},{"x":158.9,"y":-0.12},{"x":159.6,"y":-0.137},
    {"x":160.8,"y":-0.132},{"x":161.6,"y":-0.121},{"x":162.2,"y":-0.14},{"x":163.2,"y":-0.127},{"x":164,"y":-0.151},{"x":165.2,"y":-0.138},{"x":166.5,"y":-0.117},{"x":167.2,"y":-0.145},{"x":168.2,"y":-0.131},{"x":169.2,"y":-0.125},{"x":170.2,"y":-0.147},{"x":171.2,"y":-0.124},{"x":172.8,"y":-0.137},{"x":173.8,"y":-0.152},{"x":174.8,"y":-0.126},{"x":175.8,"y":-0.139},{"x":176.8,"y":-0.131},{"x":177.8,"y":-0.147},{"x":178.8,"y":-0.12},{"x":179.8,"y":-0.14},
    {"x":180.6,"y":-0.141},{"x":182.2,"y":-0.121},{"x":183.2,"y":-0.148},{"x":184.8,"y":-0.136},{"x":186.2,"y":-0.125},{"x":187.2,"y":-0.158},{"x":188.8,"y":-0.14},{"x":190.2,"y":-0.127},{"x":191.8,"y":-0.153},{"x":193.2,"y":-0.136},{"x":194.8,"y":-0.145},{"x":196.2,"y":-0.157},{"x":197.8,"y":-0.131},{"x":199.2,"y":-0.145}
  ]},
  "mark": {"type": "point", "shape": "circle", "filled": false, "stroke": "black", "strokeWidth": 1.1, "size": 52, "opacity": 1},
  "encoding": {
    "x": {
      "field": "x", "type": "quantitative",
      "scale": {"domain": [-15.7, 407.7], "nice": false, "zero": false},
      "axis": {
        "title": "Fitted Values", "values": [0, 100, 200, 300, 400],
        "domain": false, "grid": false, "tickColor": "black", "tickSize": 9, "tickWidth": 1,
        "labelFont": "Liberation Sans", "labelFontSize": 16, "labelColor": "black", "labelPadding": 10,
        "titleFont": "Liberation Sans", "titleFontSize": 16, "titleFontWeight": "normal", "titleColor": "black", "titlePadding": 27
      }
    },
    "y": {
      "field": "y", "type": "quantitative",
      "scale": {"domain": [-0.27, 0.27], "nice": false, "zero": false},
      "axis": {
        "title": "Modified Pearson Residuals", "values": [-0.2, -0.1, 0, 0.1, 0.2], "format": ".1f",
        "domain": false, "grid": false, "tickColor": "black", "tickSize": 9, "tickWidth": 1,
        "labelAngle": -90, "labelAlign": "center", "labelBaseline": "bottom",
        "labelFont": "Liberation Sans", "labelFontSize": 16, "labelColor": "black", "labelPadding": 12,
        "titleFont": "Liberation Sans", "titleFontSize": 16, "titleFontWeight": "normal", "titleColor": "black", "titlePadding": 24
      }
    }
  }
}
